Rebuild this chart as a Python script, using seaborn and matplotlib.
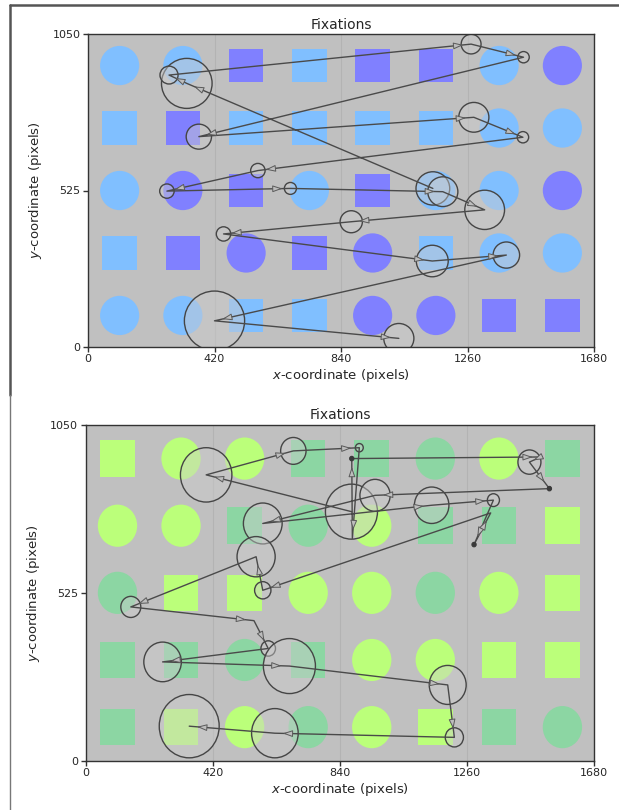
import numpy as np
import pandas as pd
import matplotlib
matplotlib.use("Agg")
import matplotlib.pyplot as plt
import seaborn as sns
from matplotlib.patches import Ellipse, Rectangle, Circle, FancyArrowPatch
from matplotlib.lines import Line2D

# ---------------- data ----------------
x_ticks = [0, 420, 840, 1260, 1680]
y_ticks = [0, 525, 1050]

# stimulus grid (rows from top to bottom); C = circle, S = square
top_shapes = ["CCSSSSCC", "SSSSSSCC", "CCSCSCCC", "SSCSCSCC", "CCSSCCSS"]
top_colors = ["LLPLPPLP", "LPLLLLLL", "LPPLPLLP", "LPPPPLLL", "LLLLPPPP"]
top_palette = {"L": "#80BFFF", "P": "#8080FF"}

bot_shapes = ["SCCSSCCS", "CCSCCSSS", "CSSCCCCS", "SSCSCCSS", "SSCCCSSC"]
bot_colors = ["AAAGGGAG", "AAGGAGGA", "GAAAAGAA", "GGGGAAAA", "GAAGAAGG"]
bot_palette = {"A": "#BBFF7A", "G": "#8CD6A3"}

# fixations in scan order (x, y in screen pixels, radius ~ duration)
top_fx_x = [1145, 328, 269, 1272, 1446, 368, 1281, 1444, 564, 262, 672, 1178, 1317, 874, 450, 1143, 1389, 420, 1032]
top_fx_y = [532, 885, 913, 1017, 973, 706, 771, 704, 592, 523, 532, 521, 460, 420, 379, 288, 308, 87, 28]
top_fx_r = [56, 84, 30, 33, 19, 42, 50, 19, 24, 24, 20, 50, 66, 37, 24, 53, 44, 100, 50]

bot_fx_x = [878, 398, 686, 904, 881, 879, 1503, 1466, 1532, 956, 585, 1143, 1347, 1283, 1338,
            585, 563, 149, 556, 603, 254, 673, 1196, 1218, 625, 342]
bot_fx_y = [779, 894, 969, 979, 695, 945, 950, 934, 851, 830, 742, 799, 815, 676, 775,
            533, 638, 481, 438, 351, 309, 296, 237, 73, 86, 108]
bot_fx_r = [86, 85, 42, 13, 0, 6, 0, 38, 6, 50, 64, 57, 20, 6, 0,
            27, 63, 33, 0, 24, 62, 86, 61, 30, 77, 99]

# ---------------- style ----------------
sns.set_theme(style="ticks")
plt.rcParams['font.family'] = ['DejaVu Sans']
plt.rcParams['mathtext.fontset'] = 'dejavusans'

fig = plt.figure(figsize=(6.19, 8.10), dpi=100)
fig.patch.set_facecolor("white")
ax1 = fig.add_axes([88 / 619, 1 - 346.7 / 810, 506 / 619, 312.4 / 810])
ax2 = fig.add_axes([85.7 / 619, 1 - 760.7 / 810, 508.5 / 619, 335.7 / 810])

LINE_C = "#4A4A4A"


def draw_panel(ax, shapes, colors, palette, fx, fy, fr):
    ax.set_facecolor("#C0C0C0")
    ax.set_xlim(0, 1680)
    ax.set_ylim(0, 1050)
    for gx in [420, 840, 1260]:
        ax.axvline(gx, color="#B3B3B3", lw=0.8, zorder=0.5)
    # stimulus shapes
    for i, row in enumerate(shapes):
        cy = 1050 - 105 - 210 * i
        for j, (s, c) in enumerate(zip(row, colors[i])):
            cx = 105 + 210 * j
            col = palette[c]
            if s == "C":
                p = Ellipse((cx, cy), 130, 132, fc=col, ec="none", zorder=1)
            else:
                p = Rectangle((cx - 57, cy - 57), 114, 114, fc=col, ec="none", zorder=1)
            ax.add_patch(p)
    # fixation circles
    for x, y, r in zip(fx, fy, fr):
        if r <= 0:
            continue
        if r <= 8:
            ax.add_patch(Circle((x, y), 7, fc="#3A3A3A", ec="#3A3A3A", lw=0.8, zorder=3.5))
        else:
            ax.add_patch(Circle((x, y), r, fc=(0.80, 0.80, 0.80, 0.45),
                                ec="#454545", lw=1.0, zorder=2))
    # scan path
    df = pd.DataFrame({"x": fx, "y": fy, "order": np.arange(len(fx))})
    sns.lineplot(data=df, x="x", y="y", sort=False, estimator=None,
                 color=LINE_C, lw=1.0, ax=ax, zorder=3)
    # arrow heads near each target fixation
    for k in range(len(fx) - 1):
        x0, y0, x1, y1 = fx[k], fy[k], fx[k + 1], fy[k + 1]
        d = np.hypot(x1 - x0, y1 - y0)
        if d == 0:
            continue
        ux, uy = (x1 - x0) / d, (y1 - y0) / d
        back = min(26, 0.35 * d)
        tip = (x1 - ux * back, y1 - uy * back)
        tail = (tip[0] - ux * 20, tip[1] - uy * 20)
        ax.add_patch(FancyArrowPatch(tail, tip, arrowstyle="-|>,head_length=0.5,head_width=0.17",
                                     mutation_scale=12, fc="#BDBDBD", ec="#5A5A5A",
                                     lw=0.7, shrinkA=0, shrinkB=0, zorder=4))
    ax.set_xticks(x_ticks)
    ax.set_yticks(y_ticks)
    ax.tick_params(axis="both", labelsize=8, direction="out", length=3.5,
                   width=1, color="#333333", pad=2)
    for sp in ax.spines.values():
        sp.set_color("#333333")
        sp.set_linewidth(1.0)
    ax.set_title("Fixations", fontsize=10, pad=4)
    ax.set_xlabel(r"$x$-coordinate (pixels)", fontsize=9.5, labelpad=2)
    ax.set_ylabel(r"$y$-coordinate (pixels)", fontsize=9.5, labelpad=6)


draw_panel(ax1, top_shapes, top_colors, top_palette, top_fx_x, top_fx_y, top_fx_r)
draw_panel(ax2, bot_shapes, bot_colors, bot_palette, bot_fx_x, bot_fx_y, bot_fx_r)

# screenshot-like frame lines
fig.add_artist(Line2D([10 / 619, 1.0], [1 - 5 / 810, 1 - 5 / 810], color="#555555", lw=1.8,
                      transform=fig.transFigure))
fig.add_artist(Line2D([10 / 619, 10 / 619], [1 - 5 / 810, 1 - 395 / 810], color="#555555", lw=1.8,
                      transform=fig.transFigure))
fig.add_artist(Line2D([10 / 619, 10 / 619], [1 - 395 / 810, 0.0], color="#777777", lw=1.0,
                      transform=fig.transFigure))

fig.savefig("out.png", dpi=100)
